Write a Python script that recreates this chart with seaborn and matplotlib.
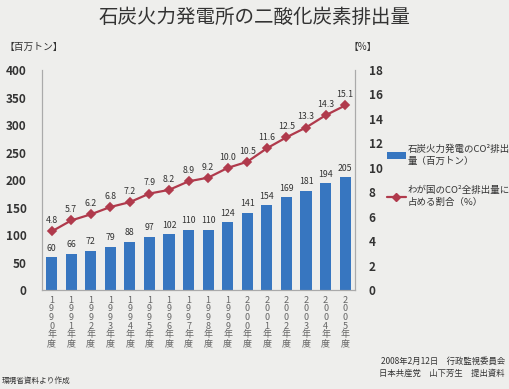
import matplotlib
matplotlib.use("Agg")
import matplotlib.pyplot as plt
import seaborn as sns
import pandas as pd
from matplotlib.patches import Patch
from matplotlib.lines import Line2D

years = ["1990", "1991", "1992", "1993", "1994", "1995", "1996", "1997",
         "1998", "1999", "2000", "2001", "2002", "2003", "2004", "2005"]
co2_coal = [60, 66, 72, 79, 88, 97, 102, 110, 110, 124, 141, 154, 169, 181, 194, 205]
share_pct = [4.8, 5.7, 6.2, 6.8, 7.2, 7.9, 8.2, 8.9, 9.2, 10.0, 10.5, 11.6, 12.5, 13.3, 14.3, 15.1]

sns.set_theme(style="white")
plt.rcParams['font.family'] = ['Noto Sans CJK JP', 'DejaVu Sans']

bg = "#eeeeec"
bar_c = "#3776c0"
line_c = "#b03a4c"
txt = "#333333"

df = pd.DataFrame({"year": years, "co2": co2_coal, "pct": share_pct})
df["label"] = ["\n".join(list(y)) + "\n年\n度" for y in years]

fig = plt.figure(figsize=(5.10, 3.89), dpi=100, facecolor=bg)
ax = fig.add_axes([0.082, 0.254, 0.614, 0.566])
ax.set_facecolor(bg)

sns.barplot(data=df, x="label", y="co2", color=bar_c, width=0.57, ax=ax,
            saturation=1, edgecolor="none")
ax.set_xlim(-0.5, 15.5)
ax.set_ylim(0, 400)
ax.set_yticks(range(0, 401, 50))
ax.set_xlabel("")
ax.set_ylabel("")
ax.tick_params(axis="y", labelsize=8.5, colors=txt, length=0, pad=11)
ax.tick_params(axis="x", labelsize=6.5, colors="#666666", length=0, pad=4)
for lab in ax.get_yticklabels():
    lab.set_fontweight("bold")
for lab in ax.get_xticklabels():
    lab.set_linespacing(0.95)
    lab.set_verticalalignment("top")

for i, v in enumerate(co2_coal):
    ax.text(i, v + 8, str(v), ha="center", va="bottom", fontsize=6.3, color=txt)

ax2 = ax.twinx()
sns.pointplot(data=df, x="label", y="pct", color=line_c, markers="D",
              linewidth=1.6, markersize=4, ax=ax2)
ax2.set_xlim(-0.5, 15.5)
ax2.set_ylim(0, 18)
ax2.set_yticks(range(0, 19, 2))
ax2.set_ylabel("")
ax2.set_xlabel("")
ax2.tick_params(axis="y", labelsize=8.5, colors=txt, length=0, pad=10)
for lab in ax2.get_yticklabels():
    lab.set_fontweight("bold")
for i, v in enumerate(share_pct):
    ax2.text(i, v + 0.5, f"{v:.1f}", ha="center", va="bottom", fontsize=6.3, color=txt)

for a in (ax, ax2):
    a.spines["top"].set_visible(False)
    for s in ["left", "right", "bottom"]:
        a.spines[s].set_color("#aaaaaa")
        a.spines[s].set_linewidth(0.8)

fig.text(0.5, 0.955, "石炭火力発電所の二酸化炭素排出量", ha="center", va="center",
         fontsize=14, color=txt)
fig.text(0.008, 0.88, "【百万トン】", ha="left", va="center", fontsize=7, color=txt)
fig.text(0.684, 0.88, "【%】", ha="left", va="center", fontsize=7, color=txt)

handles = [Patch(facecolor=bar_c, edgecolor="none"),
           Line2D([0], [0], color=line_c, marker="D", markersize=4, linewidth=1.6)]
labels = ["石炭火力発電のCO²排出\n量（百万トン）", "わが国のCO²全排出量に\n占める割合（%）"]
leg = fig.legend(handles, labels, loc="upper left", bbox_to_anchor=(0.742, 0.65),
                 frameon=False, fontsize=6.8, handlelength=2.0, handletextpad=0.2,
                 labelspacing=2.2, labelcolor=txt)
for t in leg.get_texts():
    t.set_linespacing(1.3)

fig.text(0.004, 0.022, "環境省資料より作成", ha="left", va="center", fontsize=5.5, color=txt)
fig.text(0.99, 0.07, "2008年2月12日　行政監視委員会", ha="right", va="center",
         fontsize=6, color=txt)
fig.text(0.99, 0.04, "日本共産党　山下芳生　提出資料", ha="right", va="center",
         fontsize=6, color=txt)

fig.savefig("out.png", dpi=100, facecolor=bg)
